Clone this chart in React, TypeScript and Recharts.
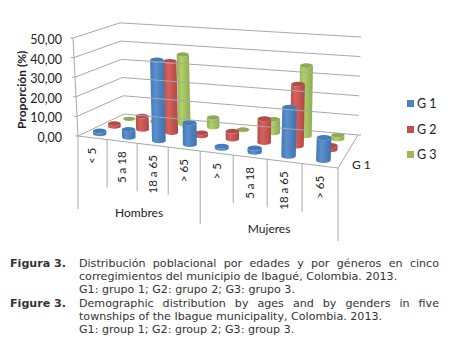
import { ComposedChart, Bar, XAxis, YAxis, Legend } from "recharts";

const ageLabels = ["< 5", "5 a 18", "18 a 65", "> 65", "> 5", "5 a 18", "18 a 65", "> 65"];
const groupLabels = ["Hombres", "Mujeres"];
const g1Values = [1.5, 4, 41, 11, 1, 2, 24, 11];
const g2Values = [1.5, 7, 37, 1.5, 4, 12, 31, 2];
const g3Values = [0.1, 0.1, 37, 5, 0.2, 7, 36, 2];
const yTicks = [0, 10, 20, 30, 40, 50];
const depthLabel = "G 1";

const tableData = ageLabels.map((age, i) => ({ age, g1: g1Values[i], g2: g2Values[i], g3: g3Values[i] }));

const W = 456;
const H = 354;
const PLOT_LEFT = 78;
const PLOT_WIDTH = 260;
const PLOT_BOTTOM = 136;
const PLOT_HEIGHT = 98;
const AXIS_COLOR = "#a8a8a8";

// corners of the floor as they appear in the oblique view
const FL = [78, 136];
const FR = [338, 168];
const BL = [124, 114];
const BR = [358, 135];

const lerp = (a: number, b: number, t: number) => a + (b - a) * t;
const warp = (u: number) => u - 0.12 * u * (1 - u);

// u along the categories, v into the depth, h = pixels above the floor
function project(u: number, v: number, h = 0) {
  const w = warp(u);
  const fx = lerp(lerp(FL[0], FR[0], w), lerp(BL[0], BR[0], w), v);
  const fy = lerp(lerp(FL[1], FR[1], w), lerp(BL[1], BR[1], w), v);
  const k = lerp(lerp(1, 1.06, w), lerp(0.93, 1, w), v);
  const lean = lerp(lerp(-5, 4, w), lerp(-4, 3, w), v);
  return [fx + (lean * h) / PLOT_HEIGHT, fy - h * k];
}

const uOf = (x: number) => (x - PLOT_LEFT) / PLOT_WIDTH;

function Cylinder(props: any) {
  const { x, width, height, depth, fill, topFill } = props;
  const u = uOf(x + width / 2);
  const w = warp(u);
  const [bx, by] = project(u, depth);
  const [tx, ty] = project(u, depth, Math.max(height, 0));
  const rx = lerp(lerp(6.8, 7.6, w), lerp(5.8, 6.4, w), depth);
  const ry = rx * 0.36;
  const body = `M${tx - rx},${ty} L${bx - rx},${by} A${rx},${ry} 0 0 0 ${bx + rx},${by} L${tx + rx},${ty} A${rx},${ry} 0 0 1 ${tx - rx},${ty} Z`;
  return (
    <g>
      <path d={body} fill={fill} />
      <ellipse cx={tx} cy={ty} rx={rx} ry={ry} fill={topFill} />
    </g>
  );
}

function ValueTick(props: any) {
  const { y, payload } = props;
  const h = PLOT_BOTTOM - y;
  const a = project(0, 0, h);
  const b = project(0, 1, h);
  const c = project(1, 1, h);
  return (
    <g>
      <polyline points={`${a[0] - 3},${a[1]} ${a} ${b} ${c}`} fill="none" stroke={AXIS_COLOR} strokeWidth={1} />
      <text x={62} y={a[1] + 6} textAnchor="end" fontFamily="Lato" fontSize={12.5} fill="#222">
        {payload.value.toFixed(2).replace(".", ",")}
      </text>
      {payload.value === 0 && (
        <g>
          <polyline points={`${project(1, 0)} ${project(1, 1)}`} fill="none" stroke={AXIS_COLOR} />
          <polyline points={`${project(0, 0)} ${project(1, 0)}`} fill="none" stroke={AXIS_COLOR} />
          <polyline points={`${project(1, 1)} ${project(1, 1)[0] + 3},${project(1, 1)[1]}`} fill="none" stroke={AXIS_COLOR} />
          <text x={352} y={169} fontFamily="Lato" fontSize={12} fill="#222">{depthLabel}</text>
        </g>
      )}
      {payload.value === 50 && (
        <polyline points={`${project(0, 0)} ${a}`} fill="none" stroke={AXIS_COLOR} />
      )}
    </g>
  );
}

function AgeTick(props: any) {
  const { x, index } = props;
  const u = uOf(x);
  const step = 1 / ageLabels.length;
  const [cx, cy] = project(u, 0);
  const [lx, ly] = project(u - step / 2, 0);
  const [rx, ry] = project(u + step / 2, 0);
  const perGroup = ageLabels.length / groupLabels.length;
  const firstInGroup = index % perGroup === 0;
  const lastInGroup = index % perGroup === perGroup - 1;
  const groupStart = project(u - (index % perGroup) * step - step / 2, 0);
  const groupEnd = project(u + (perGroup - 1 - index % perGroup) * step + step / 2, 0);
  return (
    <g>
      {index === 0 && <line x1={lx} y1={ly} x2={lx} y2={ly + 73} stroke={AXIS_COLOR} />}
      <line x1={rx} y1={ry} x2={rx} y2={ry + (lastInGroup ? 73 : 48)} stroke={AXIS_COLOR} />
      <text
        transform={`translate(${cx + 4},${cy + 10}) rotate(-90)`}
        textAnchor="end"
        fontFamily="Lato"
        fontSize={11.5}
        fill="#222"
      >
        {ageLabels[index]}
      </text>
      {firstInGroup && (
        <text
          x={(groupStart[0] + groupEnd[0]) / 2}
          y={(groupStart[1] + groupEnd[1]) / 2 + 73}
          textAnchor="middle"
          fontFamily="Lato"
          fontSize={12}
          fill="#222"
        >
          {groupLabels[Math.floor(index / perGroup)]}
        </text>
      )}
    </g>
  );
}

function LegendBox(props: any) {
  const items = [...(props.payload || [])].sort((a: any, b: any) => String(a.value).localeCompare(String(b.value)));
  return (
    <div>
      {items.map((item: any) => (
        <div key={item.value} style={{ display: "flex", alignItems: "center", height: 25.5, fontFamily: "Lato", fontSize: 12.5, color: "#222" }}>
          <span style={{ width: 7, height: 7, background: item.color, marginRight: 3 }} />
          {item.value}
        </div>
      ))}
    </div>
  );
}

const captionRow = { display: "flex", height: 13.2, lineHeight: "13.2px" };
const captionHead = { width: 69, fontWeight: 700 };
const justified = { width: 360, textAlign: "justify" as const, textAlignLast: "justify" as const };

export default function App() {
  return (
    <div style={{ position: "absolute", left: 0, top: 0, width: W, height: H, overflow: "hidden", background: "#fff" }}>
      <ComposedChart
        width={W}
        height={H}
        data={tableData}
        barSize={12}
        barGap={-12}
        margin={{ top: 38, right: W - PLOT_LEFT - PLOT_WIDTH, bottom: H - PLOT_BOTTOM - 1, left: 0 }}
      >
        <defs>
          <linearGradient id="blueBody" x1="0" x2="1" y1="0" y2="0">
            <stop offset="0" stopColor="#4477b2" />
            <stop offset="0.35" stopColor="#5a90cf" />
            <stop offset="1" stopColor="#3f70aa" />
          </linearGradient>
          <linearGradient id="redBody" x1="0" x2="1" y1="0" y2="0">
            <stop offset="0" stopColor="#b54c49" />
            <stop offset="0.35" stopColor="#d9605d" />
            <stop offset="1" stopColor="#ae4845" />
          </linearGradient>
          <linearGradient id="greenBody" x1="0" x2="1" y1="0" y2="0">
            <stop offset="0" stopColor="#93b054" />
            <stop offset="0.35" stopColor="#b0d16a" />
            <stop offset="1" stopColor="#8dab50" />
          </linearGradient>
        </defs>
        <XAxis dataKey="age" height={1} interval={0} axisLine={false} tickLine={false} tick={<AgeTick />} />
        <YAxis
          width={PLOT_LEFT}
          domain={[0, 50]}
          ticks={yTicks}
          interval={0}
          axisLine={false}
          tickLine={false}
          tick={<ValueTick />}
          label={{ value: "Proporción (%)", angle: -90, position: "insideLeft", dx: 17, dy: 42, fontFamily: "Lato", fontWeight: 700, fontSize: 12, fill: "#222" }}
        />
        <Legend
          layout="vertical"
          align="center"
          verticalAlign="middle"
          content={<LegendBox />}
          wrapperStyle={{ left: 407, top: 91, width: 46, bottom: "auto" }}
        />
        <Bar
          dataKey="g3"
          name="G 3"
          fill="#9bbb59"
          isAnimationActive={false}
          shape={(p: any) => <Cylinder {...p} depth={0.83} fill="url(#greenBody)" topFill="#8fa955" />}
        />
        <Bar
          dataKey="g2"
          name="G 2"
          fill="#c0504d"
          isAnimationActive={false}
          shape={(p: any) => <Cylinder {...p} depth={0.5} fill="url(#redBody)" topFill="#b04d4a" />}
        />
        <Bar
          dataKey="g1"
          name="G 1"
          fill="#4f81bd"
          isAnimationActive={false}
          shape={(p: any) => <Cylinder {...p} depth={0.17} fill="url(#blueBody)" topFill="#437cb8" />}
        />
      </ComposedChart>
      <div style={{ position: "absolute", left: 10, top: 257, fontFamily: "'DejaVu Sans'", fontSize: 11.1, color: "#333" }}>
        <div style={captionRow}>
          <div style={captionHead}>Figura 3.</div>
          <div style={justified}>Distribución poblacional por edades y por géneros en cinco</div>
        </div>
        <div style={captionRow}>
          <div style={captionHead} />
          <div>corregimientos del municipio de Ibagué, Colombia. 2013.</div>
        </div>
        <div style={captionRow}>
          <div style={captionHead} />
          <div>G1: grupo 1; G2: grupo 2; G3: grupo 3.</div>
        </div>
        <div style={captionRow}>
          <div style={captionHead}>Figure 3.</div>
          <div style={justified}>Demographic distribution by ages and by genders in five</div>
        </div>
        <div style={captionRow}>
          <div style={captionHead} />
          <div>townships of the Ibague municipality, Colombia. 2013.</div>
        </div>
        <div style={captionRow}>
          <div style={captionHead} />
          <div>G1: group 1; G2: group 2; G3: group 3.</div>
        </div>
      </div>
    </div>
  );
}
